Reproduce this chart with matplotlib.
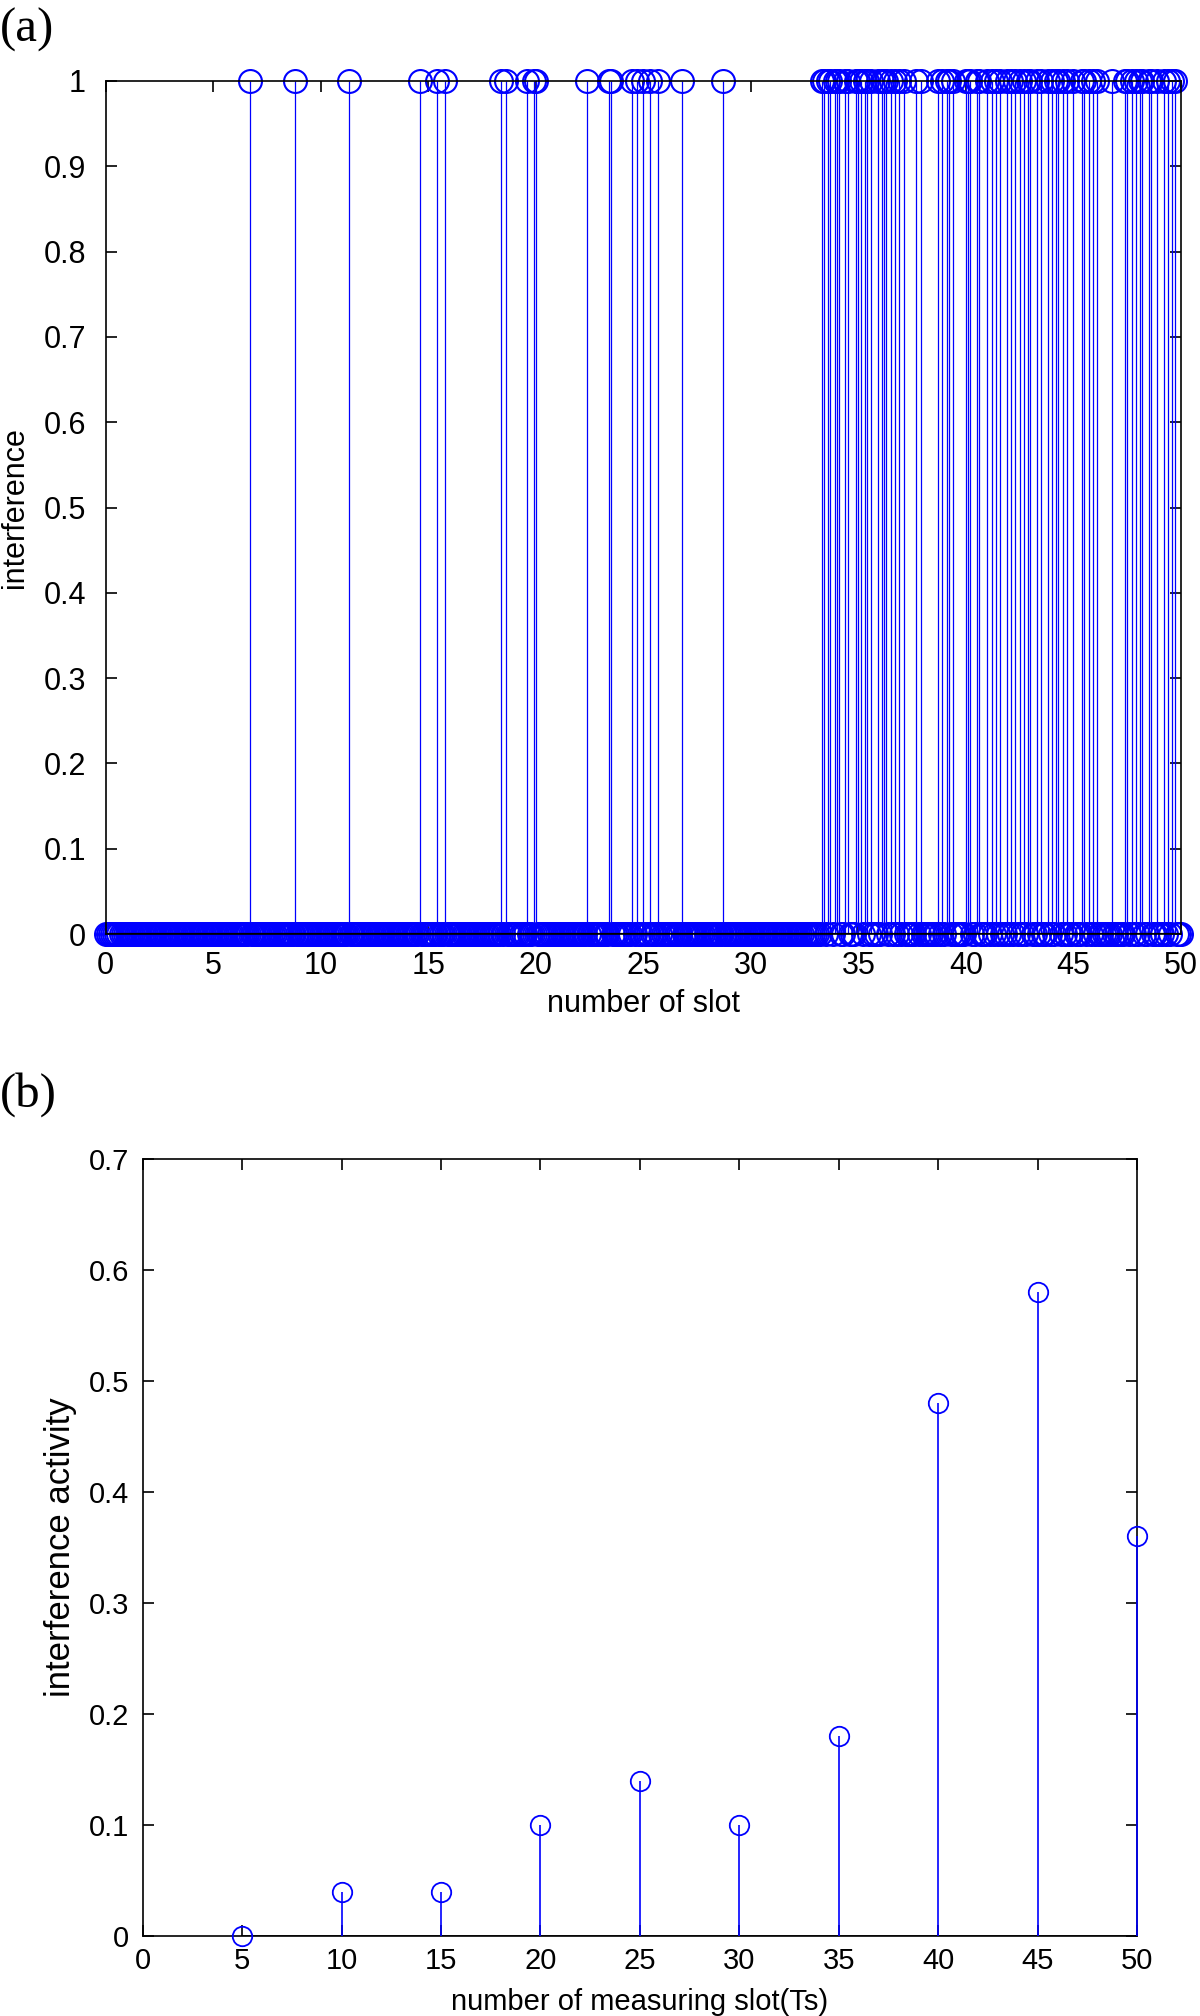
import numpy as np
import matplotlib
matplotlib.use("Agg")
import matplotlib.pyplot as plt

# ---- data: panel (a) ----
slots = np.round(np.arange(0, 501) * 0.1, 1)          # slot grid 0..50 step 0.1
busy_slots = [6.7, 8.8, 11.3, 14.6, 15.4, 15.8, 18.4, 18.6, 19.6, 19.9, 20.0,
              22.4, 23.4, 23.5, 24.5, 24.7, 25.0, 25.3, 25.7, 26.8, 28.7,
              33.3, 33.4, 33.6, 33.7, 33.9, 34.0, 34.1, 34.4, 34.5, 34.9, 35.0,
              35.1, 35.3, 35.4, 35.6, 35.9, 36.1, 36.2, 36.3, 36.5, 36.7, 36.9,
              37.1, 37.7, 37.9, 38.7, 38.9, 39.1, 39.2, 39.4, 40.0, 40.1, 40.2,
              40.5, 40.6, 41.0, 41.2, 41.4, 41.6, 41.9, 42.1, 42.3, 42.5, 42.7,
              42.9, 43.0, 43.3, 43.5, 43.8, 44.0, 44.2, 44.3, 44.5, 44.7, 45.0,
              45.4, 45.5, 45.7, 45.9, 46.1, 46.8, 47.4, 47.5, 47.7, 47.9, 48.1,
              48.2, 48.5, 48.6, 48.9, 49.2, 49.4, 49.6, 49.7]
interference = np.isin(slots, np.round(busy_slots, 1)).astype(float)

# ---- data: panel (b) ----
measuring_slot = [5, 10, 15, 20, 25, 30, 35, 40, 45, 50]
activity = [0.0, 0.04, 0.04, 0.10, 0.14, 0.10, 0.18, 0.48, 0.58, 0.36]

W, H = 1200, 2016
fig = plt.figure(figsize=(W / 100, H / 100), dpi=100)

blue = (0, 0, 1)
fa = ['Liberation Sans', 'DejaVu Sans']
fb = ['Liberation Sans Narrow', 'Liberation Sans', 'DejaVu Sans']

# ---------------- panel (a) ----------------
ax1 = fig.add_axes([105.5 / W, 1 - 934 / H, (1181 - 105.5) / W, (934 - 81) / H])
ml, sl, bl = ax1.stem(slots, interference, linefmt='-', markerfmt='o', basefmt='k-')
sl.set_color(blue)
sl.set_linewidth(0.9)
ml.set_markerfacecolor('none')
ml.set_markeredgecolor(blue)
ml.set_markersize(16.5)
ml.set_markeredgewidth(1.5)
ml.set_clip_on(False)
bl.set_linewidth(1.6)
ax1.set_xlim(0, 50)
ax1.set_ylim(0, 1)
ax1.set_xticks(np.arange(0, 51, 5))
ax1.set_yticks(np.round(np.arange(0, 1.01, 0.1), 1))
ax1.set_xticklabels([f"{v:g}" for v in np.arange(0, 51, 5)], family=fa, fontsize=22)
ax1.set_yticklabels([f"{v:g}" for v in np.round(np.arange(0, 1.01, 0.1), 1)], family=fa, fontsize=22)
ax1.tick_params(direction='in', length=8, width=1.2, top=True, right=True)
ax1.tick_params(axis='x', pad=12)
ax1.tick_params(axis='y', pad=14)
for s in ax1.spines.values():
    s.set_linewidth(1.2)
ax1.set_xlabel('number of slot', family=fa, fontsize=22, labelpad=6)
ax1.set_ylabel('interference', family=fa, fontsize=22, labelpad=10)
fig.text(0 / W, 1 - 8 / H, '(a)', family=['Liberation Serif', 'DejaVu Serif'],
         fontsize=35, ha='left', va='top')

# ---------------- panel (b) ----------------
ax2 = fig.add_axes([142.8 / W, 1 - 1936 / H, (1137 - 142.8) / W, (1936 - 1159) / H])
ml2, sl2, bl2 = ax2.stem(measuring_slot, activity, linefmt='-', markerfmt='o', basefmt='k-')
sl2.set_color(blue)
sl2.set_linewidth(1.2)
sl2.set_clip_on(False)
sl2.set_zorder(3)
ml2.set_markerfacecolor('none')
ml2.set_markeredgecolor(blue)
ml2.set_markersize(14)
ml2.set_markeredgewidth(1.3)
ml2.set_clip_on(False)
ml2.set_zorder(3.1)
bl2.set_linewidth(1.2)
ax2.set_xlim(0, 50)
ax2.set_ylim(0, 0.7)
xt = np.arange(0, 51, 5)
yt = np.round(np.arange(0, 0.71, 0.1), 1)
ax2.set_xticks(xt)
ax2.set_yticks(yt)
ax2.set_xticklabels([f"{v:g}" for v in xt], family=fb, fontsize=21)
ax2.set_yticklabels([f"{v:g}" for v in yt], family=fb, fontsize=21)
ax2.tick_params(direction='in', length=8, width=1.2, top=True, right=True)
ax2.tick_params(axis='x', pad=8)
ax2.tick_params(axis='y', pad=10)
for s in ax2.spines.values():
    s.set_linewidth(1.2)
ax2.set_xlabel('number of measuring slot(Ts)', family=fb, fontsize=21, labelpad=9)
ax2.set_ylabel('interference activity', family=fb, fontsize=25, labelpad=8)
fig.text(0 / W, 1 - 1072 / H, '(b)', family=['Liberation Serif', 'DejaVu Serif'],
         fontsize=35, ha='left', va='top')

fig.savefig('out.png', dpi=100)
